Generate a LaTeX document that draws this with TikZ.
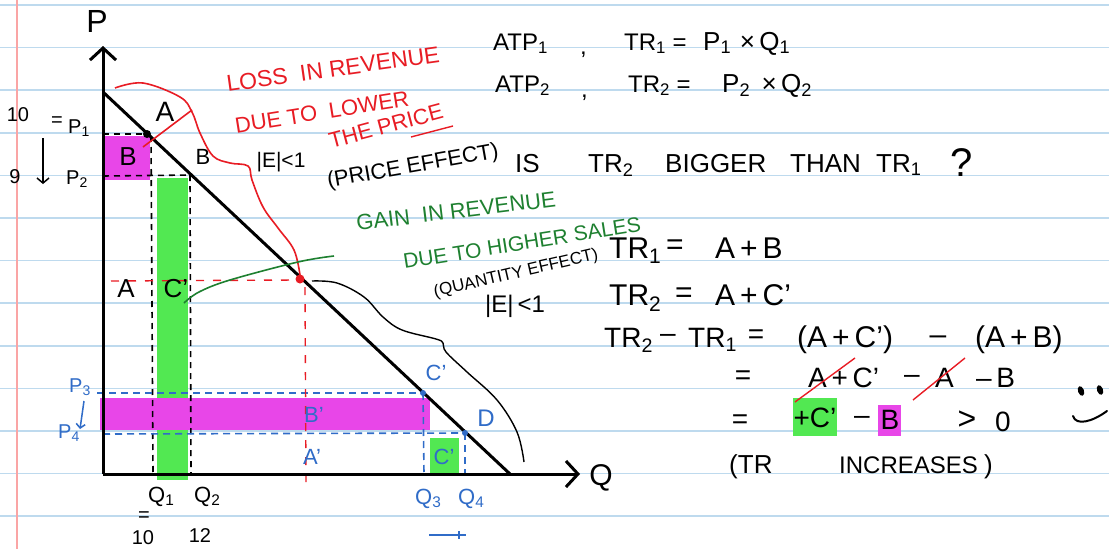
\documentclass[tikz,border=0pt]{standalone}
\usepackage{fontspec}
\setmainfont{Liberation Sans}
\usetikzlibrary{arrows.meta}
\newcommand{\myfs}[1]{\fontsize{#1}{#1}\selectfont}
\newcommand{\sbs}[1]{\textsubscript{#1}}
\definecolor{rulecol}{RGB}{190,218,238}
\definecolor{margincol}{RGB}{250,165,165}
\definecolor{hred}{RGB}{232,28,36}
\definecolor{hgreen}{RGB}{30,128,48}
\definecolor{hblue}{RGB}{48,108,200}
\definecolor{hlgreen}{RGB}{82,232,82}
\definecolor{hmag}{RGB}{232,70,232}
\begin{document}
\begin{tikzpicture}[x=1pt,y=-1pt,
  tx/.style={inner sep=0pt,text=black},
  bw/.style={tx,anchor=base west},
  redtx/.style={inner sep=0pt,text=hred},
  greentx/.style={inner sep=0pt,text=hgreen},
  bluetx/.style={inner sep=0pt,text=hblue},
  axis/.style={line width=3pt,-{Straight Barb[length=12pt,width=26pt,line width=3pt]}},
  demand/.style={line width=3pt},
  bdash/.style={black,line width=1.6pt,dash pattern=on 6pt off 5pt},
  bldash/.style={hblue,line width=1.6pt,dash pattern=on 7pt off 5pt},
  rdash/.style={hred,line width=1.4pt,dash pattern=on 8pt off 9pt},
  hlg/.style={fill=hlgreen},
  hlm/.style={fill=hmag},
  strk/.style={hred,line width=1.4pt}
]
\useasboundingbox (0,0) rectangle (1109,549);
\fill[white] (0,0) rectangle (1109,549);
\foreach \k in {0,...,12} \draw[rulecol,line width=1.5pt] (0,5+42.6*\k) -- (1109,5+42.6*\k);
\draw[margincol,line width=1.2pt] (17,0) -- (17,549);

% highlights
\fill[hlm] (105,136) rectangle (150,180);
\fill[hlg] (157,178) rectangle (188,480);
\fill[hlm] (100,398) rectangle (430,430);
\fill[hlg] (430,438) rectangle (459,474);
\fill[hlg] (793,398) rectangle (837,436);
\fill[hlm] (878,405) rectangle (901,436);

% coordinates
\coordinate (O) at (103,474);
\coordinate (Ptop) at (103,46);
\coordinate (Qend) at (580,474);
\coordinate (Dtop) at (103,92);
\coordinate (Dbot) at (510,474);
\coordinate (ptA) at (147,134);
\coordinate (ptB) at (190,175);
\coordinate (ptM) at (300,279);
\coordinate (ptC) at (423,393);
\coordinate (ptD) at (465,433);

% dashed guides (black)
\draw[bdash] (103,134) -- (ptA);
\draw[bdash] (103,176) -- (ptB);
\draw[bdash] (151,136) -- (153,474);
\draw[bdash] (ptB) -- (191,474);
% blue guides
\draw[bldash] (97,393) -- (ptC);
\draw[bldash] (103,434) -- (ptD);
\draw[bldash] (ptC) -- (424,474);
\draw[bldash] (ptD) -- (465,476);
% red guides
\draw[rdash] (111,281) -- (296,280);
\draw[rdash] (305,287) -- (306,484);

% axes and demand
\draw[axis] (O) -- (Ptop);
\draw[axis] (O) -- (Qend);
\draw[demand] (Dtop) -- (Dbot);

% points
\fill (ptA) circle (4);
\fill[hred] (ptM) circle (4.5);
\fill[hblue] (ptC) circle (3);
\fill[hblue] (ptD) circle (3);

% axis labels
\node[tx,font=\myfs{32}] (lP) at (97,21) {P};
\node[tx,font=\myfs{30}] (lQ) at (601,478) {Q};

% left labels
\node[tx,font=\myfs{20}] (l10) at (18,115) {10};
\node[tx,font=\myfs{20}] (leq) at (57,122) {=};
\node[bw,font=\myfs{20}] (lP1) at (68,133) {P\sbs{1}};
\node[tx,font=\myfs{20}] (l9) at (15,177) {9};
\node[bw,font=\myfs{20}] (lP2) at (66,184) {P\sbs{2}};
\coordinate (arT) at (43,138);
\coordinate (arB) at (43,184);
\draw[line width=1.5pt,-{Straight Barb[length=5pt,width=12pt,line width=1.5pt]}] (arT) -- (arB);

% diagram letters
\node[tx,font=\myfs{28}] (lA) at (165,112) {A};
\node[tx,font=\myfs{26}] (lBm) at (128,157) {B};
\node[tx,font=\myfs{22}] (lB) at (203,157) {B};
\node[tx,font=\myfs{26}] (lA2) at (126,289) {A};
\node[tx,font=\myfs{26}] (lC2) at (176,289) {C'};
\node[bw,font=\myfs{22}] (lQ1) at (148,502) {Q\sbs{1}};
\node[bw,font=\myfs{22}] (lQ2) at (194,502) {Q\sbs{2}};
\node[tx,font=\myfs{20}] (leq2) at (144,517) {=};
\node[tx,font=\myfs{20}] (l10b) at (143,538) {10};
\node[tx,font=\myfs{20}] (l12) at (200,536) {12};

% blue labels
\node[bw,font=\myfs{20},text=hblue] (lP3) at (69,392) {P\sbs{3}};
\node[bw,font=\myfs{20},text=hblue] (lP4) at (58,438) {P\sbs{4}};
\draw[hblue,line width=1.5pt,-{Straight Barb[length=4pt,width=9pt,line width=1.5pt]}] (84,401) -- (80,429);
\node[bluetx,font=\myfs{22}] (lBp) at (314,415) {B'};
\node[bluetx,font=\myfs{22}] (lAp) at (312,457) {A'};
\node[bluetx,font=\myfs{22}] (lCp) at (436,373) {C'};
\node[bluetx,font=\myfs{24}] (lD) at (486,418) {D};
\node[bluetx,font=\myfs{22}] (lCg) at (444,457) {C'};
\node[bw,font=\myfs{22},text=hblue] (lQ3) at (415,504) {Q\sbs{3}};
\node[bw,font=\myfs{22},text=hblue] (lQ4) at (458,504) {Q\sbs{4}};
\coordinate (ulA) at (429,535);
\coordinate (ulB) at (466,535);
\draw[hblue,line width=1.6pt] (ulA) -- (ulB);
\draw[hblue,line width=2pt] (459,531) -- (459,539);

% red annotation
\node[redtx,font=\myfs{23},rotate=8] (r1) at (333,69) {LOSS\ \ IN REVENUE};
\node[redtx,font=\myfs{22},rotate=9] (r2) at (322,112) {DUE TO\ \ LOWER};
\node[redtx,font=\myfs{22},rotate=15] (r3) at (386,126) {THE PRICE};
\draw[hred,line width=1.4pt] (411,137) -- (453,126);
\draw[hred,line width=1.6pt] plot[smooth,tension=0.6] coordinates {(115,88) (143,83) (180,97) (192,112) (200,133) (213,156) (230,163) (248,166) (252,180) (263,207) (278,228) (294,250) (300,275)};
\draw[hred,line width=1.6pt] (143,147) -- (192,110);

% black annotation
\node[tx,font=\myfs{21}] (e1) at (281,162) {|E|<1};
\node[tx,font=\myfs{22},rotate=10] (pe) at (413,167) {(PRICE EFFECT)};
\node[bw,font=\myfs{26}] (q1) at (515,172) {IS};
\node[bw,font=\myfs{26}] (q2) at (588,172) {TR\sbs{2}};
\node[bw,font=\myfs{26}] (q3) at (665,172) {BIGGER};
\node[bw,font=\myfs{26}] (q4) at (790,172) {THAN};
\node[bw,font=\myfs{26}] (q5) at (876,172) {TR\sbs{1}};
\node[bw,font=\myfs{40}] (q6) at (950,176) {?};

% green annotation
\node[greentx,font=\myfs{22},rotate=7] (g1) at (456,211) {GAIN\ \ IN REVENUE};
\node[greentx,font=\myfs{21},rotate=9] (g2) at (522,243) {DUE TO HIGHER SALES};
\draw[hgreen,line width=1.6pt] plot[smooth,tension=0.6] coordinates {(184,303) (199,292) (230,280) (298,262) (334,256)};
\node[tx,font=\myfs{17},rotate=13] (qe) at (516,274) {(QUANTITY EFFECT)};
\node[tx,font=\myfs{24}] (e2) at (515,306) {|E|\,<1};
\draw[line width=1.4pt] plot[smooth,tension=0.6] coordinates {(312,281) (337,283) (364,297) (383,317) (402,330) (436,339) (443,343) (446,352) (467,372) (497,400) (517,432) (524,462)};

% top-right equations
\node[bw,font=\myfs{24}] (a1) at (493,50) {ATP\sbs{1}};
\node[bw,font=\myfs{24}] (a2) at (580,54) {,};
\node[bw,font=\myfs{24}] (a3) at (624,50) {TR\sbs{1} =};
\node[bw,font=\myfs{26}] (a4) at (703,50) {P\sbs{1}\,\,×\,Q\sbs{1}};
\node[bw,font=\myfs{24}] (b1) at (495,92) {ATP\sbs{2}};
\node[bw,font=\myfs{24}] (b2) at (581,97) {,};
\node[bw,font=\myfs{24}] (b3) at (628,92) {TR\sbs{2} =};
\node[bw,font=\myfs{26}] (b4) at (722,92) {P\sbs{2}\ \,×\,Q\sbs{2}};

% derivation
\node[bw,font=\myfs{30}] (c1) at (609,258) {TR\sbs{1}};
\node[tx,font=\myfs{30}] (c2) at (675,247) {=};
\node[bw,font=\myfs{30}] (c3) at (715,258) {A\,+\,B};
\node[bw,font=\myfs{30}] (d1) at (609,305) {TR\sbs{2}};
\node[tx,font=\myfs{30}] (d2) at (684,295) {=};
\node[bw,font=\myfs{30}] (d3) at (715,305) {A\,+\,C'};
\node[bw,font=\myfs{28}] (f1) at (604,347) {TR\sbs{2}};
\node[tx,font=\myfs{28}] (f2) at (668,338) {–};
\node[bw,font=\myfs{28}] (f3) at (688,347) {TR\sbs{1}};
\node[tx,font=\myfs{28}] (f4) at (756,337) {=};
\node[bw,font=\myfs{30}] (f5) at (797,347) {(A\,+\,C')};
\node[tx,font=\myfs{30}] (f6) at (938,340) {–};
\node[bw,font=\myfs{30}] (f7) at (975,347) {(A\,+\,B)};
\node[tx,font=\myfs{28}] (h1) at (743,378) {=};
\node[bw,font=\myfs{28}] (h2) at (808,387) {A\,+\,C'};
\node[tx,font=\myfs{28}] (h3) at (912,379) {–};
\node[bw,font=\myfs{28}] (h4) at (935,387) {A};
\node[bw,font=\myfs{28}] (h5) at (976,387) {–\,B};
\draw[strk] (795,402) -- (855,358);
\draw[strk] (913,400) -- (965,358);
\node[tx,font=\myfs{28}] (k1) at (740,422) {=};
\node[tx,font=\myfs{28}] (k2) at (815,418) {+C'};
\node[tx,font=\myfs{28}] (k3) at (862,420) {–};
\node[tx,font=\myfs{28}] (k4) at (890,420) {B};
\node[tx,font=\myfs{32}] (k5) at (967,420) {>};
\node[tx,font=\myfs{28}] (k6) at (1003,422) {0};
\node[bw,font=\myfs{26}] (m1) at (729,473) {(TR};
\node[bw,font=\myfs{24}] (m2) at (839,473) {INCREASES};
\node[bw,font=\myfs{26}] (m3) at (984,473) {)};

% smiley
\fill[rotate around={20:(1081,391)}] (1081,391) ellipse (3 and 5);
\fill[rotate around={20:(1100,390)}] (1100,390) ellipse (3 and 5);
\draw[line width=2pt,line cap=round] (1073,416) .. controls (1076,426) and (1092,422) .. (1107,411);
\end{tikzpicture}
\end{document}
